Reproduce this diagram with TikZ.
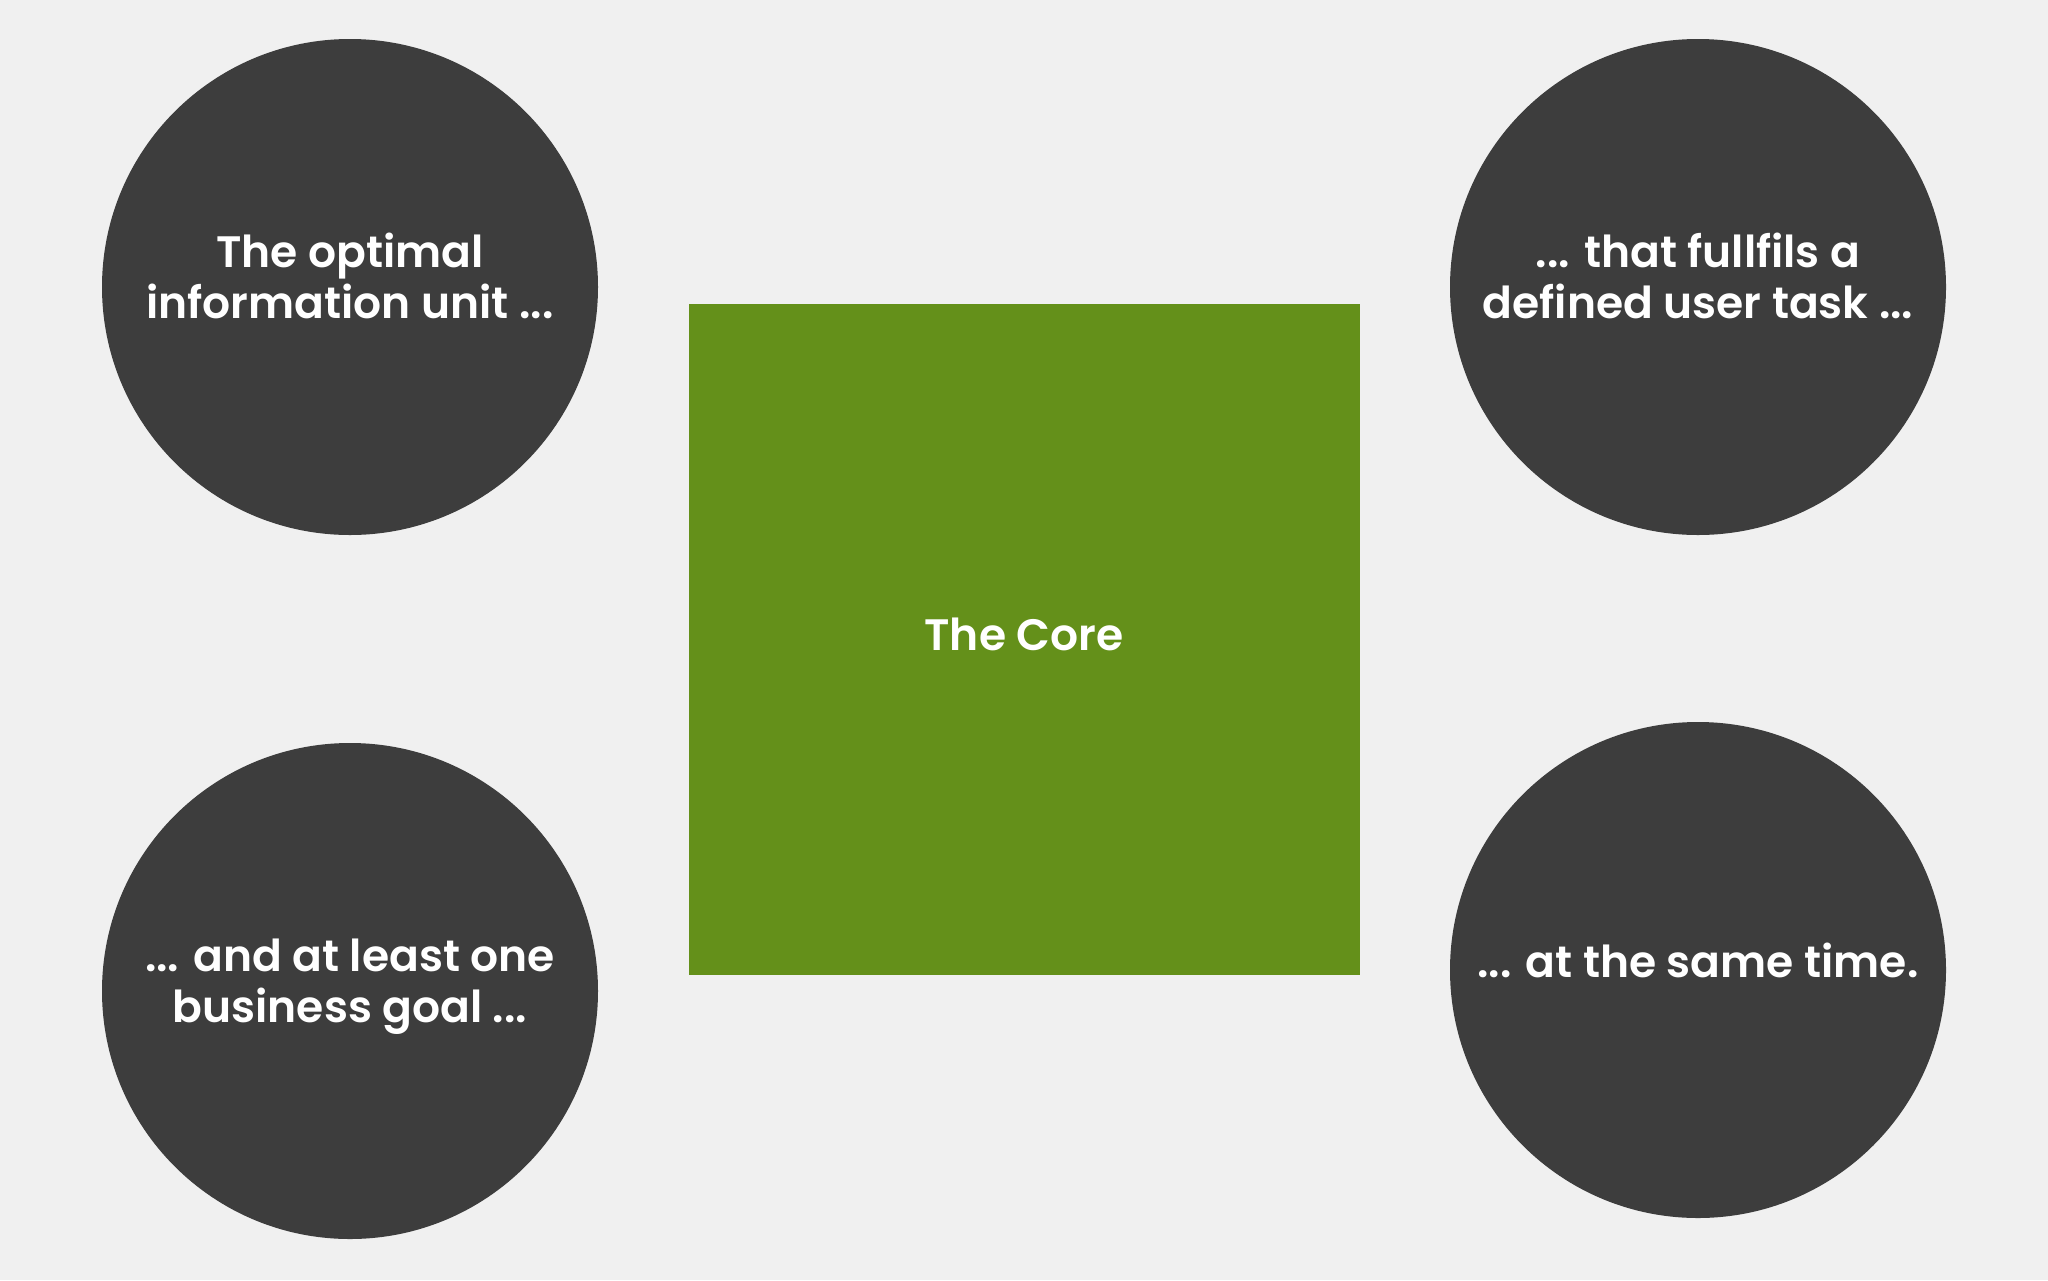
\documentclass[tikz,border=0pt]{standalone}
\usepackage{fontspec}
\setmainfont{Poppins}[BoldFont={Poppins SemiBold}]
\definecolor{bgGrey}{HTML}{F0F0F0}
\definecolor{discGrey}{HTML}{3D3D3D}
\definecolor{coreGreen}{HTML}{64901A}
\tikzset{
  disc/.style={circle, fill=discGrey, minimum size=496pt, inner sep=0pt},
  discText/.style={text=white, align=center, inner sep=0pt,
    font=\fontsize{44}{51}\selectfont\bfseries},
  corebox/.style={fill=coreGreen, minimum size=671pt, inner sep=0pt}
}
\begin{document}
\begin{tikzpicture}[x=1pt,y=-1pt]
    \fill[bgGrey] (0,0) rectangle (2048,1280); % background
    \useasboundingbox (0,0) rectangle (2048,1280);
    \node[corebox, label={[discText, yshift=5pt]center:The Core}] (core) at (1024,639) {}; % centre square
    \node[disc, label={[discText, yshift=11pt]center:{The optimal\\information unit ...}}] (unit) at (350,287) {};
    \node[disc, label={[discText, yshift=11pt]center:{... that fullfils a\\defined user task ...}}] (task) at (1698,287) {};
    \node[disc, label={[discText, yshift=4pt]center:{... and at least one\\business goal ...}}] (goal) at (350,991) {};
    \node[disc, label={[discText, yshift=10pt]center:{... at the same time.}}] (time) at (1698,970) {};
\end{tikzpicture}
\end{document}
